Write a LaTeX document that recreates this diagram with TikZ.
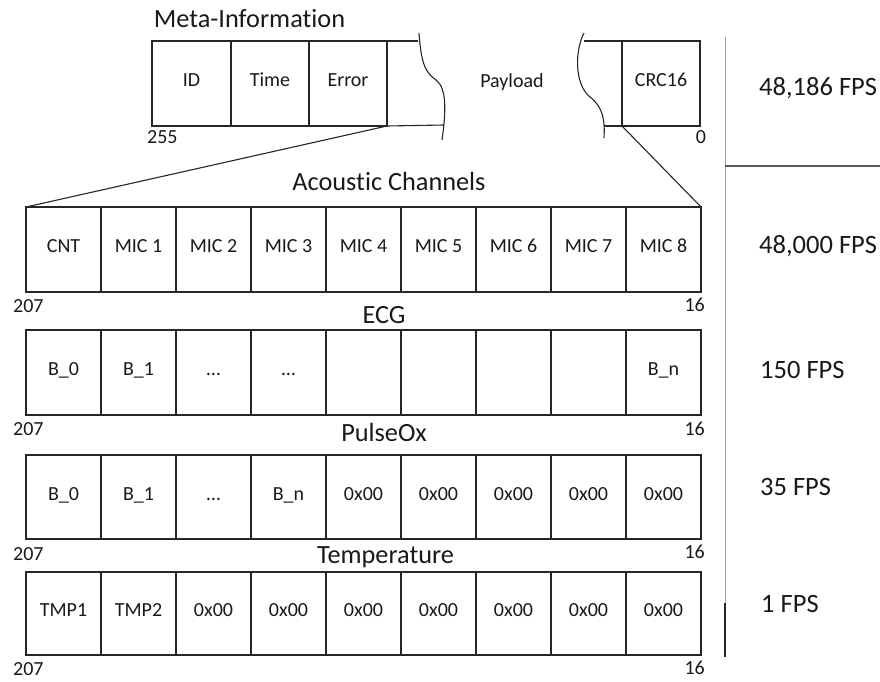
\documentclass[tikz,border=0pt]{standalone}
\usepackage{fontspec}
\setmainfont{Carlito}[Ligatures=NoCommon]
\newcommand\cellfont{\fontsize{20}{23}\selectfont}
\newcommand\titlefont{\fontsize{26.3}{30}\selectfont}
\newcommand\fpsfont{\fontsize{26.5}{30}\selectfont}
\begin{document}
\begin{tikzpicture}[x=1pt,y=-1pt,
  ln/.style={line width=1.1pt, draw=black!85},
  cell/.style={ln, rectangle, inner sep=0pt, outer sep=0pt, anchor=north west,
    minimum width=75pt, minimum height=85pt, font=\cellfont,
    text height=0.64em, text depth=0pt, text=black!90},
  ttl/.style={font=\titlefont, anchor=base, inner sep=0pt, text=black!90},
  num/.style={font=\cellfont, inner sep=0pt, text height=0.64em, text depth=0pt, text=black!90},
  fps/.style={font=\fpsfont, anchor=base west, inner sep=0pt, text=black!90},
]
\useasboundingbox (0,0) rectangle (880,682);

% ---- meta-information frame ----
\node[ttl] (tmeta) at (249.5,28) {Meta-Information};
\node[cell, minimum width=79pt] (id) at (152,41) {ID};
\node[cell, minimum width=78pt] (time) at (id.north east) {Time};
\node[cell, minimum width=78pt] (err) at (time.north east) {Error};
\node[cell, minimum width=78pt] (crc) at (622,41) {CRC16};
\coordinate (mtr) at (418,41);
\coordinate (mbr) at (444,125);
\coordinate (ptl) at (584,41);
\coordinate (pbl) at (604,126);
\draw[ln] (err.north east) -- (mtr);
\draw[ln] (err.south east) -- (mbr);
\draw[ln] (ptl) -- (crc.north west);
\draw[ln] (pbl) -- (crc.south west);
\draw[ln] (419,33) .. controls (421,60) and (424,72) .. (436,80)
               .. controls (447,88) and (446,112) .. (442,140);
\draw[ln] (584,33) .. controls (575,50) and (574,84) .. (590,97)
               .. controls (603,107) and (605,120) .. (604,138);
\node[num] (pay) at (512,84) {Payload};
\node[num, anchor=west] (n255) at (147,140) {255};
\node[num] (n0) at (701,140) {0};

% ---- acoustic channels ----
\node[ttl] (tac) at (389,190) {Acoustic Channels};
\foreach \t [count=\i from 0] in {CNT,MIC 1,MIC 2,MIC 3,MIC 4,MIC 5,MIC 6,MIC 7,MIC 8}
  \node[cell] (a\i) at ({26+75*\i},207) {\t};
\node[num, anchor=west] (a207) at (13,309) {207};
\node[num, anchor=east] (a16) at (705,308.5) {16};
\draw[ln] (err.south east) -- (a0.north west);
\draw[ln] (crc.south west) -- (a8.north east);

% ---- ECG ----
\node[ttl] (tecg) at (384,323) {ECG};
\foreach \t [count=\i from 0] in {B\_0,B\_1,…,…,{},{},{},{},B\_n}
  \node[cell] (e\i) at ({26+75*\i},330) {\t};
\node[num, anchor=west] (e207) at (13,432.5) {207};
\node[num, anchor=east] (e16) at (705,432.5) {16};

% ---- PulseOx ----
\node[ttl] (tpo) at (384,441) {PulseOx};
\foreach \t [count=\i from 0] in {B\_0,B\_1,…,B\_n,0x00,0x00,0x00,0x00,0x00}
  \node[cell, minimum height=84pt] (p\i) at ({26+75*\i},455) {\t};
\node[num, anchor=west] (p207) at (13,557) {207};
\node[num, anchor=east] (p16) at (705,555.5) {16};

% ---- Temperature ----
\node[ttl] (ttmp) at (385.5,563) {Temperature};
\foreach \t [count=\i from 0] in {TMP1,TMP2,0x00,0x00,0x00,0x00,0x00,0x00,0x00}
  \node[cell, minimum height=83pt] (t\i) at ({26+75*\i},572) {\t};
\node[num, anchor=west] (t207) at (13,672.5) {207};
\node[num, anchor=east] (t16) at (705,671.5) {16};

% ---- rate column ----
\coordinate (vtop) at (725,37);
\coordinate (vmid) at (725,603);
\coordinate (vthk) at (725,657);
\coordinate (hl) at (725,166);
\coordinate (hr) at (880,166);
\draw[gray!75, line width=0.8pt] (vtop) -- (vmid);
\draw[black!85, line width=1.6pt] (vmid) -- (vthk);
\draw[black!65, line width=1.3pt] (hl) -- (hr);
\node[fps] (f1) at (759,96) {48,186 FPS};
\node[fps] (f2) at (759,253) {48,000 FPS};
\node[fps] (f3) at (760,378) {150 FPS};
\node[fps] (f4) at (760,495) {35 FPS};
\node[fps] (f5) at (761,612) {1 FPS};
\end{tikzpicture}
\end{document}
